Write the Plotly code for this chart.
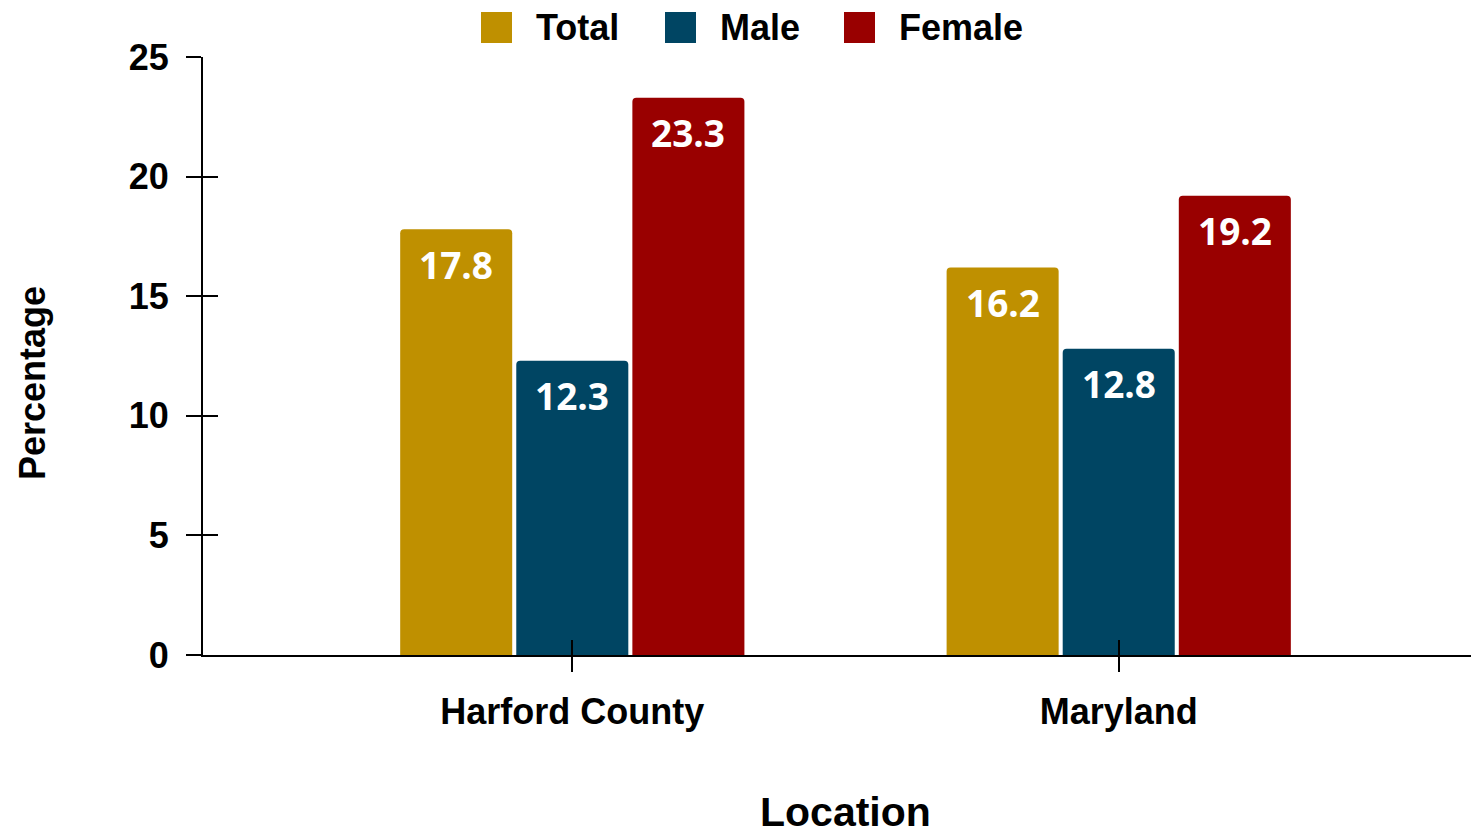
import plotly.graph_objects as go

# ---- data ----
locations = ["Harford County", "Maryland"]
series_names = ["Total", "Male", "Female"]
total_vals = [17.8, 16.2]
male_vals = [12.3, 12.8]
female_vals = [23.3, 19.2]
series_colors = ["#BF9000", "#004563", "#990000"]
y_ticks = [0, 5, 10, 15, 20, 25]

W, H = 1471, 836
L, R, T, B = 203, 0, 57, 181
PW, PH = W - L - R, H - T - B

def px_x(p):
    return (p - L) / PW

def px_y(p):
    return (H - B - p) / PH

FAM = "Liberation Sans, Arial, sans-serif"
AXFONT = dict(family=FAM, size=36, color="black", weight="bold")
LABFONT = dict(family="Open Sans, sans-serif", size=37, color="white", weight="bold")

BARGAP, GROUPGAP = 0.3626, 0.035
UNIT_PX = 546

fig = go.Figure()
all_vals = [total_vals, male_vals, female_vals]
for i, (name, vals, col) in enumerate(zip(series_names, all_vals, series_colors)):
    fig.add_trace(go.Bar(
        x=locations, y=vals, name=name,
        marker=dict(color=col, cornerradius=4, line=dict(width=0)),
        showlegend=False, hoverinfo="x+y+name",
    ))
    slot = (1 - BARGAP) * UNIT_PX / 3
    for loc, v in zip(locations, vals):
        fig.add_annotation(x=loc, y=v, xref="x", yref="y", text=f"{v:.1f}",
                           xshift=(i - 1) * slot, yshift=-35, yanchor="middle",
                           xanchor="center", showarrow=False, font=LABFONT)

# empty helper traces so the overlay axes (inner half of the crossing ticks) render
fig.add_trace(go.Scatter(x=[None], y=[None], xaxis="x2", yaxis="y", showlegend=False, hoverinfo="skip"))
fig.add_trace(go.Scatter(x=[None], y=[None], xaxis="x", yaxis="y2", showlegend=False, hoverinfo="skip"))

xr = [-(572 - L) / UNIT_PX, 1 + (W - 1119) / UNIT_PX]

fig.update_layout(
    width=W, height=H,
    margin=dict(l=L, r=R, t=T, b=B),
    plot_bgcolor="white", paper_bgcolor="white",
    barmode="group", bargap=BARGAP, bargroupgap=GROUPGAP,
    showlegend=False,
    xaxis=dict(range=xr, showgrid=False, zeroline=False,
               showline=True, linecolor="black", linewidth=2,
               ticks="outside", ticklen=15, tickwidth=2, tickcolor="black",
               tickfont=AXFONT, ticklabelstandoff=9),
    yaxis=dict(range=[0, 25], tickvals=y_ticks, showgrid=False, zeroline=False,
               showline=True, linecolor="black", linewidth=2,
               ticks="outside", ticklen=15, tickwidth=2, tickcolor="black",
               tickfont=AXFONT, ticklabelstandoff=10),
    xaxis2=dict(range=xr, overlaying="x", anchor="y", side="bottom", tickvals=[0, 1],
                showticklabels=False, showgrid=False, zeroline=False, showline=False,
                ticks="inside", ticklen=15, tickwidth=2, tickcolor="black"),
    yaxis2=dict(range=[0, 25], overlaying="y", anchor="x", side="left", tickvals=y_ticks,
                showticklabels=False, showgrid=False, zeroline=False, showline=False,
                ticks="inside", ticklen=15, tickwidth=2, tickcolor="black"),
)

# custom legend (large rounded squares + bold labels) across the top
sq_left = [481, 665, 844]
txt_left = [534, 718, 897]
for name, col, sx, tx in zip(series_names, series_colors, sq_left, txt_left):
    fig.add_shape(type="rect", xref="paper", yref="paper",
                  x0=px_x(sx), x1=px_x(sx + 31), y0=px_y(43), y1=px_y(12),
                  fillcolor=col, line=dict(width=0), layer="above")
    fig.add_annotation(text=name, xref="paper", yref="paper",
                       x=px_x(tx), y=px_y(28), xanchor="left", yanchor="middle",
                       showarrow=False, font=AXFONT)

# axis titles
fig.add_annotation(text="Percentage", xref="paper", yref="paper",
                   x=px_x(32), y=px_y(383), xanchor="center", yanchor="middle",
                   textangle=-90, showarrow=False, font=AXFONT)
fig.add_annotation(text="Location", xref="paper", yref="paper",
                   x=px_x(845), y=px_y(812), xanchor="center", yanchor="middle",
                   showarrow=False, font=dict(family=FAM, size=41, color="black", weight="bold"))

fig.write_html("out.html", config={"displayModeBar": False},
               post_script="document.body.style.margin='0';document.body.style.overflow='hidden';")
